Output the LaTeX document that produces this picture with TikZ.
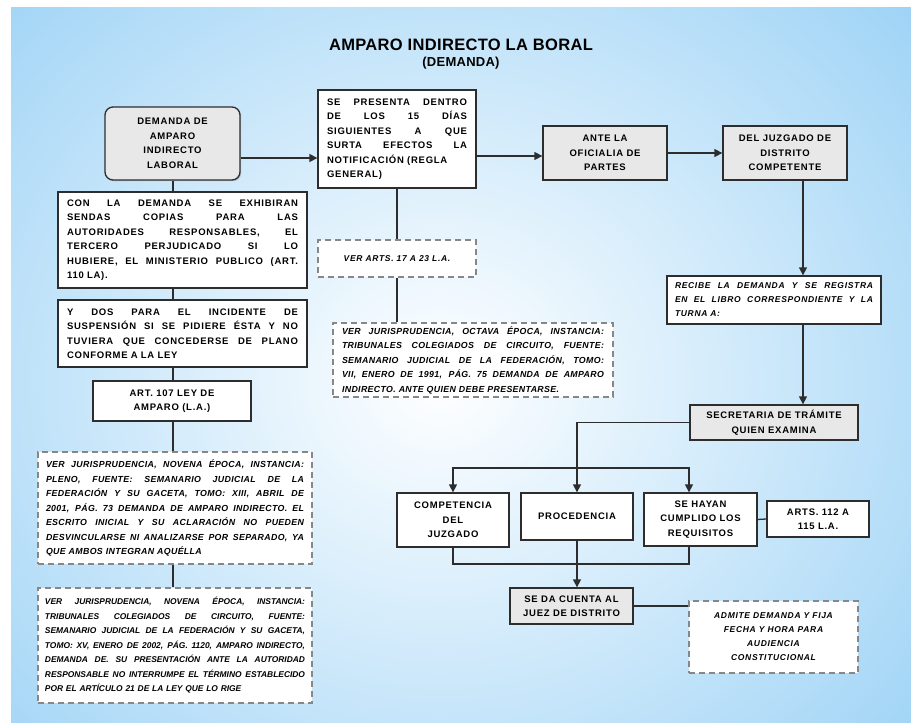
\documentclass[tikz,border=0pt]{standalone}
\usepackage{fontspec}
\setmainfont{Liberation Sans}
\newfontfamily\bxfont[LetterSpace=8]{Liberation Sans}
\newfontfamily\jfont[LetterSpace=4]{Liberation Sans}
\newfontfamily\ttlfont[LetterSpace=2]{Liberation Sans}
\usetikzlibrary{arrows.meta,calc,shadows}
\definecolor{bgblue}{RGB}{160,212,246}
\definecolor{boxgray}{RGB}{232,232,232}
\definecolor{linecol}{RGB}{45,45,45}
\definecolor{dashcol}{RGB}{135,135,135}
\newlength{\jw}
\newcommand{\jline}[1]{\hbox to \jw{\spaceskip=0pt \xspaceskip=0pt #1}\par}
\newcommand{\lline}[1]{\hbox to \jw{#1\hfil}\par}
\hyphenpenalty=10000
\hbadness=10000
\begin{document}
\begin{tikzpicture}[x=1pt,y=-1pt,
  base/.style={draw=linecol, line width=1.3pt, inner sep=0pt, align=center,
    drop shadow={shadow xshift=1.2pt, shadow yshift=-1.2pt, opacity=0.35},
    font=\bxfont\bfseries\fontsize{9.5}{14.5}\selectfont},
  whitebox/.style={base, fill=white},
  graybox/.style={base, fill=boxgray},
  parbox/.style={whitebox, align=left},
  dashbox/.style={draw=dashcol, line width=1.2pt, dash pattern=on 6pt off 4pt,
    fill=white, inner sep=0pt, align=center,
    font=\bxfont\bfseries\itshape\fontsize{8.5}{14}\selectfont},
  jurisbox/.style={dashbox, align=left, font=\jfont\bfseries\itshape\fontsize{8.8}{14.5}\selectfont},
  conn/.style={draw=linecol, line width=1.3pt},
  arr/.style={conn, -{Triangle[length=8pt,width=8pt]}}
]
% background
\useasboundingbox (0,0) rectangle (911,723);
\fill[white] (0,0) rectangle (911,723);
\fill[bgblue] (11,7) rectangle (911,723);
\begin{scope}
  \clip (11,7) rectangle (911,723);
  \shade[inner color=white, outer color=bgblue] (440,380) ellipse [x radius=620, y radius=560];
\end{scope}

% title
\node[font=\ttlfont\bfseries\fontsize{16.5}{19}\selectfont] (title) at (461,45) {AMPARO INDIRECTO LA BORAL};
\node[font=\ttlfont\bfseries\fontsize{13}{15}\selectfont] (subtitle) at (461,63) {(DEMANDA)};

% left column
\node[graybox, rounded corners=8pt, minimum width=135pt, minimum height=73pt] (demanda) at (172.5,143.5)
  {DEMANDA DE\\AMPARO\\INDIRECTO\\LABORAL};
\node[parbox, minimum width=249pt, minimum height=96pt, text width=231pt] (conla) at (182.5,240)
  {\setlength{\jw}{231pt}\jline{CON LA DEMANDA SE EXHIBIRAN}\jline{SENDAS COPIAS PARA LAS}\jline{AUTORIDADES RESPONSABLES, EL}\jline{TERCERO PERJUDICADO SI LO}\jline{HUBIERE, EL MINISTERIO PUBLICO (ART.}\lline{110 LA).}};
\node[parbox, minimum width=249pt, minimum height=67pt, text width=231pt] (ydos) at (182.5,333.5)
  {\setlength{\jw}{231pt}\jline{Y DOS PARA EL INCIDENTE DE}\jline{SUSPENSIÓN SI SE PIDIERE ÉSTA Y NO}\jline{TUVIERA QUE CONCEDERSE DE PLANO}\lline{CONFORME A LA LEY}};
\node[whitebox, minimum width=158pt, minimum height=40pt] (art107) at (172,401)
  {ART. 107 LEY DE\\AMPARO (L.A.)};
\node[jurisbox, minimum width=274pt, minimum height=112pt, text width=258pt] (juris1) at (175,508)
  {\setlength{\jw}{258pt}\jline{VER JURISPRUDENCIA, NOVENA ÉPOCA, INSTANCIA:}\jline{PLENO, FUENTE: SEMANARIO JUDICIAL DE LA}\jline{FEDERACIÓN Y SU GACETA, TOMO: XIII, ABRIL DE}\jline{2001, PÁG. 73 DEMANDA DE AMPARO INDIRECTO. EL}\jline{ESCRITO INICIAL Y SU ACLARACIÓN NO PUEDEN}\jline{DESVINCULARSE NI ANALIZARSE POR SEPARADO, YA}\lline{QUE AMBOS INTEGRAN AQUÉLLA}};
\node[jurisbox, minimum width=274pt, minimum height=115pt, text width=260pt,
  font=\bfseries\itshape\fontsize{8.4}{14.5}\selectfont] (juris2) at (175,645.5)
  {\setlength{\jw}{260pt}\jline{VER JURISPRUDENCIA, NOVENA ÉPOCA, INSTANCIA:}\jline{TRIBUNALES COLEGIADOS DE CIRCUITO, FUENTE:}\jline{SEMANARIO JUDICIAL DE LA FEDERACIÓN Y SU GACETA,}\jline{TOMO: XV, ENERO DE 2002, PÁG. 1120, AMPARO INDIRECTO,}\jline{DEMANDA DE. SU PRESENTACIÓN ANTE LA AUTORIDAD}\jline{RESPONSABLE NO INTERRUMPE EL TÉRMINO ESTABLECIDO}\lline{POR EL ARTÍCULO 21 DE LA LEY QUE LO RIGE}};

% middle column
\node[parbox, minimum width=158pt, minimum height=98pt, text width=140pt] (sepresenta) at (397,139)
  {\setlength{\jw}{140pt}\jline{SE PRESENTA DENTRO}\jline{DE LOS 15 DÍAS}\jline{SIGUIENTES A QUE}\jline{SURTA EFECTOS LA}\lline{NOTIFICACIÓN (REGLA}\lline{GENERAL)}};
\node[dashbox, minimum width=158pt, minimum height=37pt] (verarts) at (397,258.5)
  {VER ARTS. 17 A 23 L.A.};
\node[jurisbox, minimum width=280pt, minimum height=74pt, text width=262pt] (juris3) at (473,360)
  {\setlength{\jw}{262pt}\jline{VER JURISPRUDENCIA, OCTAVA ÉPOCA, INSTANCIA:}\jline{TRIBUNALES COLEGIADOS DE CIRCUITO, FUENTE:}\jline{SEMANARIO JUDICIAL DE LA FEDERACIÓN, TOMO:}\jline{VII, ENERO DE 1991, PÁG. 75 DEMANDA DE AMPARO}\lline{INDIRECTO. ANTE QUIEN DEBE PRESENTARSE.}};

% right part
\node[graybox, minimum width=124pt, minimum height=54pt] (ante) at (605,153)
  {ANTE LA\\OFICIALIA DE\\PARTES};
\node[graybox, minimum width=124pt, minimum height=54pt] (juzgado) at (785,153)
  {DEL JUZGADO DE\\DISTRITO\\COMPETENTE};
\node[whitebox, align=left, minimum width=214pt, minimum height=48pt, text width=198pt,
  font=\bxfont\bfseries\itshape\fontsize{8.5}{14}\selectfont] (recibe) at (774,300)
  {\setlength{\jw}{198pt}\jline{RECIBE LA DEMANDA Y SE REGISTRA}\jline{EN EL LIBRO CORRESPONDIENTE Y LA}\lline{TURNA A:}};
\node[graybox, minimum width=168pt, minimum height=35pt] (secretaria) at (774,422.5)
  {SECRETARIA DE TRÁMITE\\QUIEN EXAMINA};
\node[whitebox, minimum width=112pt, minimum height=54pt] (competencia) at (453,520)
  {COMPETENCIA\\DEL\\JUZGADO};
\node[whitebox, minimum width=112pt, minimum height=47pt] (procedencia) at (577,516.5)
  {PROCEDENCIA};
\node[whitebox, minimum width=113pt, minimum height=53pt] (sehayan) at (700.5,519.5)
  {SE HAYAN\\CUMPLIDO LOS\\REQUISITOS};
\node[whitebox, minimum width=102pt, minimum height=36pt] (arts) at (818,519)
  {ARTS. 112 A\\115 L.A.};
\node[graybox, minimum width=123pt, minimum height=36pt] (secadaq) at (571.5,606)
  {SE DA CUENTA AL\\JUEZ DE DISTRITO};
\node[dashbox, minimum width=169pt, minimum height=72pt] (admite) at (773.5,637)
  {ADMITE DEMANDA Y FIJA\\FECHA Y HORA PARA\\AUDIENCIA\\CONSTITUCIONAL};

% helper coordinates
\coordinate (row1) at (0,158);
\coordinate (row2) at (0,156);
\coordinate (colL) at (173,0);
\coordinate (colR) at (803,0);
\coordinate (jn) at (577,468);
\coordinate (shx) at (689,0);
\coordinate (bot) at (0,564);

% connectors
\draw[arr] (demanda.east |- row1) -- (sepresenta.west |- row1);
\draw[arr] (sepresenta.east |- row2) -- (ante.west |- row2);
\draw[arr] (ante.east) -- (juzgado.west);
\draw[arr] (juzgado.south -| colR) -- (recibe.north -| colR);
\draw[arr] (recibe.south -| colR) -- (secretaria.north -| colR);

\draw[conn] (demanda.south -| colL) -- (conla.north -| colL);
\draw[conn] (conla.south -| colL) -- (ydos.north -| colL);
\draw[conn] (ydos.south -| colL) -- (art107.north -| colL);
\draw[conn] (art107.south -| colL) -- (juris1.north -| colL);
\draw[conn] (juris1.south -| colL) -- (juris2.north -| colL);

\draw[conn] (sepresenta.south) -- (verarts.north);
\draw[conn] (verarts.south) -- (juris3.north -| verarts.south);

\draw[arr] (secretaria.west) -| (procedencia.north);
\draw[arr] (jn) -| (competencia.north);
\draw[arr] (jn) -| (sehayan.north -| shx);
\draw[conn] (sehayan.east) -- (arts.west);
\draw[conn] (competencia.south) |- (bot -| shx) -- (sehayan.south -| shx);
\draw[arr] (procedencia.south) -- (secadaq.north -| procedencia.south);
\draw[conn] (secadaq.east) -- (secadaq.east -| admite.west);
\end{tikzpicture}
\end{document}
